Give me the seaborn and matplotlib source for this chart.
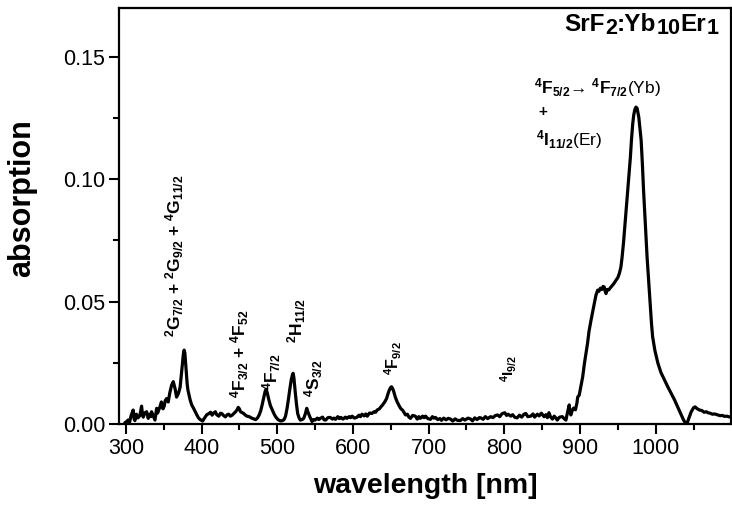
import matplotlib
matplotlib.use("Agg")
import numpy as np
import pandas as pd
import matplotlib.pyplot as plt
from matplotlib.ticker import MultipleLocator, FormatStrFormatter
import seaborn as sns

# Absorption spectrum of SrF2:Yb10Er1, segment by segment (wavelength in nm)
wl_uv = [298.7, 301, 303, 305, 307, 309.7, 311, 312, 314, 316, 318.5, 320.8, 322, 323,
         325, 327.4, 329.6, 331, 333, 334, 336, 338.5, 340.7, 342, 343.5, 345, 347, 349,
         350.7, 352, 353.8, 356, 358, 360.4, 362.7, 365, 367, 369.5, 371.7, 374, 376, 377,
         378, 379.3, 381, 382, 385, 387, 389.5, 392, 394, 396, 398.3, 401.5, 403, 405,
         407, 409.5, 412, 414, 416, 418.3, 420, 422.8, 425, 427, 429, 431.5, 434, 436,
         438, 440.4, 443, 445, 447, 448.5, 450, 451.5, 454, 456, 458, 460, 463, 465, 468,
         471.5, 474, 476, 478, 480, 482, 484, 485.5, 487, 489, 491, 493.5, 496, 498, 501,
         504.5, 507, 509, 511, 513, 515, 516.5, 518.5, 520, 521, 522, 523, 524, 525.5,
         527, 529, 530.5, 533, 535, 537, 539, 540.5, 543, 546]
abs_uv = [0.0005, 0.0010, 0.0016, 0.0008, 0.0035, 0.0057, 0.0020, 0.0014, 0.0040, 0.0025,
          0.0034, 0.0073, 0.0040, 0.0028, 0.0045, 0.0050, 0.0023, 0.0040, 0.0030, 0.0050,
          0.0035, 0.0016, 0.0064, 0.0045, 0.0058, 0.0070, 0.0090, 0.0062, 0.0073, 0.0095,
          0.0104, 0.0090, 0.0126, 0.0158, 0.0173, 0.0145, 0.0110, 0.0125, 0.0150, 0.0220,
          0.0285, 0.0302, 0.0290, 0.0235, 0.0165, 0.0139, 0.0098, 0.0078, 0.0064, 0.0048,
          0.0036, 0.0025, 0.0018, 0.0012, 0.0020, 0.0029, 0.0038, 0.0042, 0.0048, 0.0036,
          0.0045, 0.0050, 0.0038, 0.0032, 0.0044, 0.0042, 0.0035, 0.0029, 0.0038, 0.0040,
          0.0032, 0.0036, 0.0044, 0.0050, 0.0058, 0.0068, 0.0062, 0.0050, 0.0046, 0.0042,
          0.0036, 0.0032, 0.0030, 0.0026, 0.0022, 0.0018, 0.0025, 0.0036, 0.0052, 0.0077,
          0.0105, 0.0133, 0.0142, 0.0125, 0.0098, 0.0075, 0.0057, 0.0040, 0.0029, 0.0018,
          0.0012, 0.0014, 0.0018, 0.0032, 0.0064, 0.0105, 0.0139, 0.0180, 0.0200, 0.0207,
          0.0190, 0.0155, 0.0125, 0.0080, 0.0043, 0.0024, 0.0016, 0.0018, 0.0023, 0.0040,
          0.0064, 0.0050, 0.0030, 0.0010]

wl_vis = [548, 550, 553, 555, 557, 560, 562, 564, 567, 570, 573, 575, 577, 580, 582, 584,
          587, 590, 592, 595, 597, 599, 602, 605, 608, 610, 612, 615, 617, 619, 622, 625,
          628, 630, 632, 635, 637, 639, 642, 644.5, 646, 648, 650, 651, 652.5, 654, 656,
          658.5, 661, 663, 666, 669.5, 672, 674, 676, 679, 682.5, 685, 687, 689, 692, 694,
          696, 699, 702.5, 705, 707, 709, 712, 715, 717, 720, 723, 726, 729, 732, 735, 738,
          742, 745, 748, 752, 755.6, 758, 761, 764, 767, 769, 772, 775, 778, 782, 785, 788,
          791, 794, 797, 800.7, 803, 805, 808.6, 811, 814, 817, 820, 823, 826, 828.5, 831,
          835, 838, 840, 843.7, 846, 849, 852.5, 855, 857, 859, 861, 863.6, 866, 868, 870,
          873, 876.7, 879, 881.5, 883, 885.8, 887, 888, 890, 891.7, 894, 896]
abs_vis = [0.0018, 0.0016, 0.0024, 0.0018, 0.0023, 0.0028, 0.0017, 0.0016, 0.0026, 0.0027,
           0.0020, 0.0024, 0.0019, 0.0030, 0.0022, 0.0027, 0.0020, 0.0028, 0.0023, 0.0030,
           0.0026, 0.0032, 0.0024, 0.0027, 0.0036, 0.0030, 0.0040, 0.0033, 0.0041, 0.0032,
           0.0045, 0.0043, 0.0050, 0.0048, 0.0057, 0.0062, 0.0070, 0.0077, 0.0090, 0.0104,
           0.0120, 0.0138, 0.0150, 0.0152, 0.0145, 0.0132, 0.0110, 0.0090, 0.0075, 0.0064,
           0.0055, 0.0037, 0.0040, 0.0028, 0.0023, 0.0035, 0.0032, 0.0020, 0.0030, 0.0023,
           0.0032, 0.0026, 0.0032, 0.0022, 0.0019, 0.0030, 0.0024, 0.0027, 0.0018, 0.0022,
           0.0015, 0.0024, 0.0017, 0.0023, 0.0020, 0.0012, 0.0021, 0.0015, 0.0014, 0.0022,
           0.0016, 0.0024, 0.0020, 0.0013, 0.0025, 0.0018, 0.0026, 0.0025, 0.0019, 0.0030,
           0.0022, 0.0030, 0.0026, 0.0034, 0.0037, 0.0030, 0.0042, 0.0046, 0.0035, 0.0040,
           0.0032, 0.0038, 0.0027, 0.0025, 0.0036, 0.0028, 0.0040, 0.0043, 0.0030, 0.0032,
           0.0041, 0.0028, 0.0040, 0.0033, 0.0044, 0.0030, 0.0038, 0.0026, 0.0046, 0.0030,
           0.0020, 0.0032, 0.0025, 0.0016, 0.0028, 0.0030, 0.0022, 0.0016, 0.0040, 0.0078,
           0.0045, 0.0037, 0.0057, 0.0065, 0.0058, 0.0086]

wl_nir = [897, 899, 901, 903.6, 906, 908, 910, 912, 914.6, 917, 919, 921, 923.4, 925, 927,
          929, 930.5, 932, 933, 934.4, 936, 938, 941, 943, 945, 947.7, 950, 952, 954, 955.6,
          957.5, 959.6, 961.5, 963, 965, 966.6, 968, 969.7, 971, 972.5, 974, 975.5, 977.7,
          979.5, 980.8, 982.5, 984, 986.5, 988.7, 991, 993, 994.5, 996, 999, 1003, 1007,
          1011.6, 1016, 1020.5, 1025, 1029, 1033, 1036, 1038, 1040, 1041.7, 1044, 1047,
          1050, 1052, 1055, 1058, 1061, 1064, 1067, 1069, 1072, 1075, 1078, 1082, 1085,
          1088, 1091, 1094, 1097, 1100]
abs_nir = [0.0110, 0.0118, 0.0150, 0.0193, 0.0250, 0.0290, 0.0330, 0.0380, 0.0424, 0.0462,
           0.0493, 0.0525, 0.0547, 0.0542, 0.0555, 0.0550, 0.0562, 0.0560, 0.0545, 0.0533,
           0.0550, 0.0548, 0.0560, 0.0567, 0.0575, 0.0588, 0.0598, 0.0615, 0.0640, 0.0680,
           0.0740, 0.0820, 0.0890, 0.0955, 0.1030, 0.1090, 0.1160, 0.1227, 0.1262, 0.1285,
           0.1295, 0.1290, 0.1254, 0.1200, 0.1160, 0.1060, 0.0955, 0.0810, 0.0680, 0.0570,
           0.0480, 0.0410, 0.0356, 0.0300, 0.0248, 0.0210, 0.0180, 0.0152, 0.0125, 0.0098,
           0.0070, 0.0042, 0.0022, 0.0010, 0.0005, 0.0004, 0.0025, 0.0050, 0.0066, 0.0070,
           0.0062, 0.0057, 0.0055, 0.0048, 0.0050, 0.0046, 0.0044, 0.0040, 0.0041, 0.0037,
           0.0034, 0.0035, 0.0031, 0.0032, 0.0029, 0.0030]

# Er3+ / Yb3+ transition labels
transition_labels = [
    r"$^{2}$G$_{7/2}$ + $^{2}$G$_{9/2}$ + $^{4}$G$_{11/2}$",
    r"$^{4}$F$_{3/2}$ + $^{4}$F$_{52}$",
    r"$^{4}$F$_{7/2}$",
    r"$^{2}$H$_{11/2}$",
    r"$^{4}$S$_{3/2}$",
    r"$^{4}$F$_{9/2}$",
    r"$^{4}$I$_{9/2}$",
]
label_x = [365, 451, 493, 526, 548, 654, 806]
label_y = [0.0355, 0.0106, 0.0139, 0.033, 0.011, 0.020, 0.0173]
label_size = [12.5, 12.5, 12.5, 12.5, 12.5, 11.5, 11]

# Sample name, drawn as (text, is_subscript) pieces
sample_parts = [("SrF", False), ("2", True), (":Yb", False), ("10", True),
                ("Er", False), ("1", True)]

sns.set_theme(style="ticks", rc={
    "axes.edgecolor": "black", "xtick.color": "black", "ytick.color": "black",
    "text.color": "black", "axes.labelcolor": "black",
})
plt.rcParams["font.family"] = ["Liberation Sans", "DejaVu Sans"]
plt.rcParams["mathtext.fontset"] = "custom"
plt.rcParams["mathtext.rm"] = "Liberation Sans"
plt.rcParams["mathtext.it"] = "Liberation Sans:italic"
plt.rcParams["mathtext.bf"] = "Liberation Sans:bold"
plt.rcParams["mathtext.default"] = "bf"

spectrum = pd.DataFrame({
    "wavelength": wl_uv + wl_vis + wl_nir,
    "absorption": abs_uv + abs_vis + abs_nir,
})

fig = plt.figure(figsize=(7.32, 5.12), dpi=100)
ax = fig.add_axes([0.1626, 0.1719, 0.836, 0.8125])
sns.lineplot(data=spectrum, x="wavelength", y="absorption", ax=ax,
             color="black", linewidth=2.3, estimator=None, sort=False)

ax.set_xlim(291, 1099.5)
ax.set_ylim(0, 0.17)
ax.xaxis.set_major_locator(MultipleLocator(100))
ax.xaxis.set_minor_locator(MultipleLocator(50))
ax.yaxis.set_major_locator(MultipleLocator(0.05))
ax.yaxis.set_minor_locator(MultipleLocator(0.025))
ax.yaxis.set_major_formatter(FormatStrFormatter("%.2f"))
ax.tick_params(which="major", direction="out", length=7, width=1.5, labelsize=15.5, pad=3)
ax.tick_params(which="minor", direction="out", length=4, width=1.5)
for spine in ax.spines.values():
    spine.set_visible(True)
    spine.set_linewidth(1.6)
    spine.set_color("black")

ax.set_xlabel("wavelength [nm]", fontsize=20.5, fontweight="bold", labelpad=10)
ax.set_ylabel("absorption", fontsize=22, fontweight="bold")
ax.yaxis.set_label_coords(-0.134, 0.543)

for txt, x, y, fs in zip(transition_labels, label_x, label_y, label_size):
    ax.text(x, y, txt, rotation=90, ha="center", va="bottom",
            fontsize=fs, fontweight="bold")

ax.text(839, 0.135, r"$^{4}$F$_{5/2}$→ $^{4}$F$_{7/2}$$\mathrm{(Yb)}$",
        ha="left", va="baseline", fontsize=12.5, fontweight="bold")
ax.text(850.5, 0.1275, "+", ha="center", va="center", fontsize=11, fontweight="bold")
ax.text(841.5, 0.114, r"$^{4}$I$_{11/2}$$\mathrm{(Er)}$",
        ha="left", va="baseline", fontsize=12.5, fontweight="bold")

# Sample name in the top-right corner, subscripts at nearly full size
base = fig.text(564 / 732, 1 - 31 / 512, sample_parts[0][0], ha="left", va="baseline",
                fontsize=17.5, fontweight="bold")
prev = base
for part, is_sub in sample_parts[1:]:
    prev = ax.annotate(part, xy=(1, 0), xycoords=(prev, base),
                       xytext=(0.2 if is_sub else 0, -2.0 if is_sub else 0),
                       textcoords="offset points", ha="left", va="bottom",
                       fontsize=15.5 if is_sub else 17.5, fontweight="bold",
                       annotation_clip=False)

fig.savefig("out.png", dpi=100)
